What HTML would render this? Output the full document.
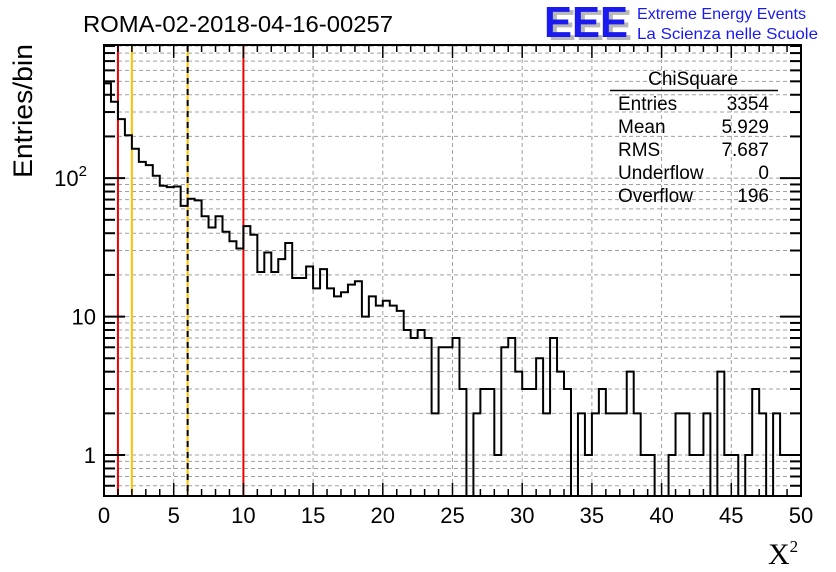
<!DOCTYPE html>
<html><head><meta charset="utf-8">
<style>
html,body{margin:0;padding:0;background:#fff;}
svg{display:block;font-family:"Liberation Sans",sans-serif;}
</style></head>
<body>
<svg id="chart" width="836" height="572" viewBox="0 0 836 572" xmlns="http://www.w3.org/2000/svg">
<rect width="836" height="572" fill="#fff"/>
<g id="grid"></g>
<g id="cuts"></g>
<g id="hist"></g>
<g id="axes"></g>
<text x="83" y="32" font-size="23.5" textLength="310" lengthAdjust="spacingAndGlyphs">ROMA-02-2018-04-16-00257</text>
<g>
<text x="548" y="40" font-size="44" font-weight="bold" fill="#b8b8b8" textLength="84" lengthAdjust="spacingAndGlyphs">EEE</text>
<text x="544" y="37" font-size="44" font-weight="bold" fill="#1a1aee" textLength="84" lengthAdjust="spacingAndGlyphs">EEE</text>
<text x="637" y="19" font-size="16" fill="#1a1aee" textLength="169" lengthAdjust="spacingAndGlyphs">Extreme Energy Events</text>
<text x="637" y="39" font-size="16" fill="#1a1aee" textLength="181" lengthAdjust="spacingAndGlyphs">La Scienza nelle Scuole</text>
</g>
<g font-size="19">
<text x="693" y="85" text-anchor="middle">ChiSquare</text>
<line x1="610" y1="90.5" x2="778" y2="90.5" stroke="#000" stroke-width="1.5"/>
<text x="618" y="110">Entries</text><text x="769" y="110" text-anchor="end">3354</text>
<text x="618" y="133">Mean</text><text x="769" y="133" text-anchor="end">5.929</text>
<text x="618" y="156">RMS</text><text x="769" y="156" text-anchor="end">7.687</text>
<text x="618" y="179">Underflow</text><text x="769" y="179" text-anchor="end">0</text>
<text x="618" y="202">Overflow</text><text x="769" y="202" text-anchor="end">196</text>
</g>
<text transform="translate(32,111) rotate(-90)" text-anchor="middle" font-size="27" textLength="134" lengthAdjust="spacingAndGlyphs">Entries/bin</text>
<text x="768" y="564" font-family="Liberation Serif,serif" font-size="30">X<tspan font-size="17" dy="-12">2</tspan></text>
</svg>
<script>
const counts=[483,356,267,204,163,131,124,104,88,86,87,63,71,69,53,44,53,41,35,31,
45,39,21,29,21,26,34,19,19,23,16,22,16,14,15,17,18,10,14,12,
13,12,11,8,7,8,7,2,6,6,7,3,0,2,3,3,1,6,7,4,
3,3,5,2,7,4,3,0,2,1,2,3,2,2,2,4,2,1,1,0,
0,1,2,2,1,1,2,0,4,1,1,0,1,3,2,0,2,1,1,1];
const binWidth=0.5;
const xTicks=[0,5,10,15,20,25,30,35,40,45,50];
const yMajor=[1,10,100];
const yLabels=["1","10","10"];
const cutRed=[1,10];
const cutOrange=[2];
const cutDashed=[6];
const NS="http://www.w3.org/2000/svg";
const L=104,R=801,T=45,B=496,XMIN=0,XMAX=50;
const YMIN=0.506,YMAX=915;
function xs(v){return L+(v-XMIN)/(XMAX-XMIN)*(R-L);}
function ys(v){if(v<YMIN)v=YMIN;return B-(Math.log10(v)-Math.log10(YMIN))/(Math.log10(YMAX)-Math.log10(YMIN))*(B-T);}
function mk(tag,attrs,parent){const e=document.createElementNS(NS,tag);for(const k in attrs)e.setAttribute(k,attrs[k]);parent.appendChild(e);return e;}
const grid=document.getElementById('grid'),axes=document.getElementById('axes'),hist=document.getElementById('hist'),cuts=document.getElementById('cuts');
xTicks.forEach(t=>{if(t>XMIN&&t<XMAX){const g=mk('line',{x1:xs(t),x2:xs(t),y1:T,y2:B,stroke:'#a0a0a0','stroke-dasharray':'4,3','stroke-width':1},grid);

}});
const logTicks=[];
for(let d=0.1;d<=100;d*=10){for(let m=1;m<10;m++){const v=Math.round(d*m*1000)/1000;if(v>=YMIN&&v<=YMAX)logTicks.push({v:v,major:m===1});}}
logTicks.forEach(o=>{const y=ys(o.v);const g=mk('line',{x1:L,x2:R,y1:y,y2:y,stroke:'#a0a0a0','stroke-dasharray':'4,3','stroke-width':1},grid);

});
cutRed.forEach(c=>{const l=mk('line',{x1:xs(c),x2:xs(c),y1:T,y2:B,stroke:'#ee0000','stroke-width':2},cuts);

});
cutOrange.forEach(c=>{const l=mk('line',{x1:xs(c),x2:xs(c),y1:T,y2:B,stroke:'#ffc000','stroke-width':2},cuts);

});
cutDashed.forEach(c=>{const l=mk('line',{x1:xs(c),x2:xs(c),y1:T,y2:B,stroke:'#ffc000','stroke-width':2},cuts);


const d=mk('line',{x1:xs(c),x2:xs(c),y1:T,y2:B,stroke:'#000','stroke-width':2,'stroke-dasharray':'6,5'},cuts);

});
let d='M'+xs(0)+','+B;
counts.forEach((c,i)=>{const x0=xs(i*binWidth),x1=xs((i+1)*binWidth),y=ys(c);d+=' L'+x0+','+y+' L'+x1+','+y;});
d+=' L'+xs(counts.length*binWidth)+','+B;
const p=mk('path',{d:d,fill:'none',stroke:'#000','stroke-width':2},hist);


const fr=mk('rect',{x:L,y:T,width:R-L,height:B-T,fill:'none',stroke:'#000','stroke-width':2},axes);


for(let v=XMIN;v<=XMAX;v+=1){const major=v%5===0;const len=major?13:7;const x=xs(v);
const t1=mk('line',{x1:x,x2:x,y1:B,y2:B-len,stroke:'#000','stroke-width':1.5},axes);


const t2=mk('line',{x1:x,x2:x,y1:T,y2:T+len,stroke:'#000','stroke-width':1.5},axes);

}
xTicks.forEach(t=>{const tx=mk('text',{x:xs(t),y:523,'text-anchor':'middle','font-size':22},axes);tx.textContent=String(t);

});
logTicks.forEach(o=>{const y=ys(o.v);const len=o.major?21:11;
const a=mk('line',{x1:L,x2:L+len,y1:y,y2:y,stroke:'#000','stroke-width':2},axes);


const b=mk('line',{x1:R,x2:R-len,y1:y,y2:y,stroke:'#000','stroke-width':2},axes);

});
yMajor.forEach((v,i)=>{const y=ys(v);const tx=mk('text',{x:i===2?87:96,y:y+8,'text-anchor':'end','font-size':22},axes);tx.textContent=yLabels[i];


if(i===2){const s=mk('tspan',{'font-size':15,dy:-10},tx);s.textContent='2';}});
</script>
</body></html>
